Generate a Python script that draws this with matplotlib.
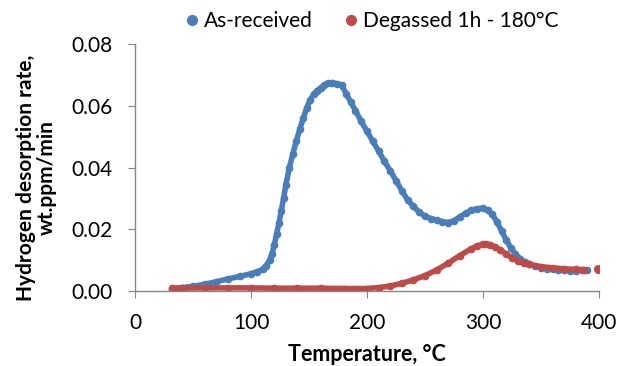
import matplotlib
matplotlib.use("Agg")
import matplotlib.pyplot as plt

# As-received series
blue_T = [32, 40, 50, 60, 70, 80, 90, 100, 105, 110, 113, 116, 118, 120, 122, 124, 126, 128,
          130, 133, 136, 139, 142, 145, 148, 151, 154, 157, 160, 163, 166, 170, 174, 178, 182,
          186, 190, 195, 200, 205, 210, 215, 220, 225, 230, 235, 240, 245, 250, 255, 260, 265,
          270, 275, 280, 285, 290, 295, 300, 304, 308, 312, 316, 320, 324, 328, 332, 336, 340,
          345, 350, 355, 360, 365, 370, 375, 380, 385, 390]
blue_v = [0.0008, 0.0011, 0.0015, 0.0022, 0.0030, 0.0039, 0.0047, 0.0056, 0.0062, 0.0070,
          0.0082, 0.0100, 0.0120, 0.0150, 0.0184, 0.0220, 0.0260, 0.0300, 0.0345, 0.0400,
          0.0445, 0.0486, 0.0525, 0.0560, 0.0594, 0.0620, 0.0638, 0.0650, 0.0658, 0.0667,
          0.0674, 0.0676, 0.0672, 0.0667, 0.0640, 0.0612, 0.0585, 0.0550, 0.0518, 0.0485,
          0.0454, 0.0420, 0.0390, 0.0358, 0.0325, 0.0295, 0.0274, 0.0256, 0.0242, 0.0235,
          0.0230, 0.0225, 0.0222, 0.0228, 0.0240, 0.0252, 0.0262, 0.0267, 0.0268, 0.0262,
          0.0248, 0.0225, 0.0195, 0.0165, 0.0140, 0.0120, 0.0105, 0.0094, 0.0087, 0.0080,
          0.0075, 0.0072, 0.0070, 0.0068, 0.0067, 0.0066, 0.0066, 0.0067, 0.0067]

# Degassed series
red_T = [32, 40, 60, 80, 100, 120, 140, 160, 180, 200, 210, 220, 230, 240, 250, 260, 270,
         280, 290, 295, 300, 303, 306, 310, 315, 320, 325, 330, 335, 340, 350, 360, 370, 380, 387]
red_v = [0.0009, 0.0009, 0.0010, 0.0010, 0.0010, 0.0009, 0.0009, 0.0009, 0.0008, 0.0008,
         0.0011, 0.0016, 0.0025, 0.0036, 0.0050, 0.0068, 0.0090, 0.0115, 0.0137, 0.0146,
         0.0152, 0.0153, 0.0150, 0.0144, 0.0133, 0.0120, 0.0108, 0.0097, 0.0090, 0.0086,
         0.0079, 0.0075, 0.0072, 0.0070, 0.0069]
red_extra_T = [399]
red_extra_v = [0.0071]

x_ticks = [0, 100, 200, 300, 400]
y_ticks = [0.00, 0.02, 0.04, 0.06, 0.08]

BLUE = "#4A7EBB"
RED = "#BE4B48"
GRAY = "#868686"

plt.rcParams['font.family'] = ['Lato', 'DejaVu Sans']

fig = plt.figure(figsize=(6.2, 3.66), dpi=100)
ax = fig.add_axes([0.218, 0.205, 0.748, 0.674])

ax.plot(blue_T, blue_v, color=BLUE, lw=4, marker='o', ms=4.5, solid_capstyle='round',
        label='As-received')
ax.plot(red_T, red_v, color=RED, lw=4, marker='o', ms=4.5, solid_capstyle='round',
        label='Degassed 1h - 180°C')
ax.plot(red_extra_T, red_extra_v, color=RED, lw=0, marker='o', ms=5.5)

ax.set_xlim(0, 400)
ax.set_ylim(0, 0.08)
ax.set_xticks(x_ticks)
ax.set_xticklabels([f"{t}" for t in x_ticks])
ax.set_yticks(y_ticks)
ax.set_yticklabels([f"{t:.2f}" for t in y_ticks])

for s in ['top', 'right']:
    ax.spines[s].set_visible(False)
for s in ['left', 'bottom']:
    ax.spines[s].set_color(GRAY)
    ax.spines[s].set_linewidth(1)
ax.tick_params(axis='both', direction='out', length=5, color=GRAY, labelsize=15,
               labelcolor='black', pad=11)

ax.set_xlabel('Temperature, °C', fontsize=15.5, fontweight='bold')
ax.xaxis.set_label_coords(0.5, -0.215)
ax.set_ylabel('Hydrogen desorption rate,\nwt.ppm/min', fontsize=15, fontweight='bold',
              linespacing=1.06)
ax.yaxis.set_label_coords(-0.168, 0.46)

handles = [plt.Line2D([], [], color=BLUE, marker='o', lw=0, ms=7),
           plt.Line2D([], [], color=RED, marker='o', lw=0, ms=7)]
fig.legend(handles, ['As-received', 'Degassed 1h - 180°C'], loc='center',
           bbox_to_anchor=(0.597, 0.943), ncol=2, frameon=False, fontsize=15,
           handletextpad=0.1, columnspacing=1.3, handlelength=1.0)

fig.savefig('out.png', dpi=100)
